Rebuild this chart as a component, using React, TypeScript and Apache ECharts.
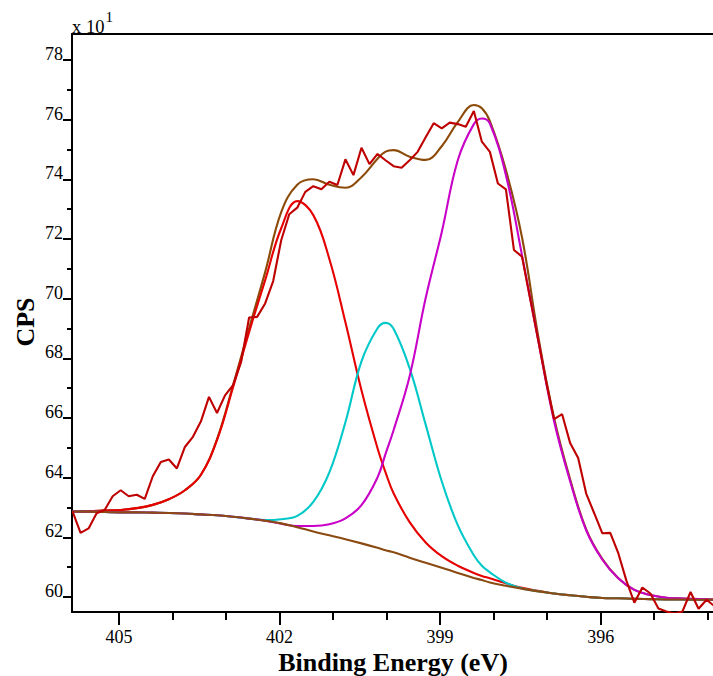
import React, { useEffect, useRef } from "react";
import * as echarts from "echarts";

// Measured spectrum (binding energy in eV, counts in units of 10 CPS)
const rawEnergy = [
  405.87, 405.72, 405.57, 405.42, 405.27, 405.12, 404.97, 404.82, 404.67, 404.52,
  404.37, 404.22, 404.07, 403.92, 403.77, 403.62, 403.47, 403.32, 403.17, 403.02,
  402.87, 402.72, 402.57, 402.42, 402.27, 402.12, 401.97, 401.82, 401.67, 401.52,
  401.37, 401.22, 401.07, 400.92, 400.77, 400.62, 400.47, 400.32, 400.17, 400.02,
  399.87, 399.72, 399.57, 399.42, 399.27, 399.12, 398.97, 398.82, 398.67, 398.52,
  398.37, 398.22, 398.07, 397.92, 397.77, 397.62, 397.47, 397.32, 397.17, 397.02,
  396.87, 396.72, 396.57, 396.42, 396.27, 396.12, 395.97, 395.82, 395.67, 395.52,
  395.37, 395.22, 395.07, 394.92, 394.77, 394.62, 394.47, 394.32, 394.17, 394.02,
  393.87,
];
const rawCps = [
  62.87, 62.15, 62.3, 62.81, 62.92, 63.38, 63.58, 63.38, 63.43, 63.29,
  64.05, 64.53, 64.61, 64.31, 65.03, 65.37, 65.89, 66.71, 66.17, 66.76,
  67.1, 67.87, 69.37, 69.39, 69.84, 70.59, 71.96, 72.83, 73.05, 73.58,
  73.77, 73.67, 73.92, 73.81, 74.67, 74.14, 75.06, 74.51, 74.85, 74.64,
  74.44, 74.39, 74.64, 74.92, 75.41, 75.88, 75.71, 75.9, 75.85, 75.76,
  76.29, 75.26, 74.92, 73.86, 73.66, 71.63, 71.41, 70.02, 68.64, 67.23,
  65.96, 66.13, 65.16, 64.66, 63.47, 62.81, 62.14, 62.15, 61.47, 60.56,
  59.81, 60.32, 60.12, 59.62, 59.52, 59.45, 59.52, 60.17, 59.61, 59.91,
  59.69,
];

// Fitted curves (same units), sampled on the grid below
const fitEnergy = [
  405.87, 405.57, 405.27, 404.97, 404.67, 404.37, 404.07, 403.77, 403.47, 403.17,
  402.87, 402.57, 402.27, 401.97, 401.67, 401.37, 401.07, 400.77, 400.47, 400.17,
  400.02, 399.87, 399.57, 399.27, 398.97, 398.67, 398.37, 398.22, 398.07, 397.77,
  397.47, 397.17, 396.87, 396.57, 396.27, 395.97, 395.67, 395.37, 395.07, 394.77,
  394.47, 394.17, 393.87,
];
const backgroundCps = [
  62.87, 62.86, 62.85, 62.84, 62.84, 62.83, 62.82, 62.8, 62.77, 62.74,
  62.69, 62.63, 62.56, 62.47, 62.34, 62.2, 62.07, 61.94, 61.8, 61.65,
  61.57, 61.5, 61.32, 61.15, 60.98, 60.81, 60.64, 60.57, 60.49, 60.38,
  60.28, 60.19, 60.12, 60.06, 60.01, 59.97, 59.96, 59.94, 59.93, 59.92,
  59.92, 59.91, 59.91,
];
const peak1Cps = [
  62.87, 62.88, 62.9, 62.92, 62.98, 63.09, 63.28, 63.58, 64.1, 65.26,
  67.03, 68.88, 70.62, 72.36, 73.27, 72.8, 71.33, 69.21, 66.93, 64.99,
  64.18, 63.48, 62.51, 61.83, 61.37, 61.05, 60.81, 60.71, 60.63, 60.46,
  60.31, 60.21, 60.12, 60.06, 60.01, 59.97, 59.96, 59.94, 59.93, 59.92,
  59.92, 59.91, 59.91,
];
const peak2Cps = [
  62.87, 62.86, 62.85, 62.84, 62.84, 62.83, 62.82, 62.8, 62.77, 62.74,
  62.69, 62.63, 62.58, 62.61, 62.72, 63.19, 64.18, 65.86, 67.9, 69.01,
  69.19, 68.99, 67.67, 65.78, 63.88, 62.41, 61.4, 61.05, 60.83, 60.48,
  60.29, 60.2, 60.12, 60.06, 60.01, 59.97, 59.96, 59.94, 59.93, 59.92,
  59.92, 59.91, 59.91,
];
const peak3Cps = [
  62.87, 62.86, 62.85, 62.84, 62.84, 62.83, 62.82, 62.8, 62.77, 62.74,
  62.69, 62.63, 62.56, 62.46, 62.38, 62.38, 62.44, 62.64, 63.08, 64.01,
  64.8, 65.59, 67.4, 70.02, 72.23, 74.64, 75.85, 76.04, 75.87, 74.14,
  71.46, 68.64, 65.89, 63.88, 62.24, 61.26, 60.63, 60.24, 60.07, 59.98,
  59.95, 59.93, 59.92,
];
const envelopeCps = [
  62.87, 62.88, 62.9, 62.92, 62.98, 63.09, 63.28, 63.58, 64.1, 65.29,
  67.1, 69.01, 70.89, 72.9, 73.82, 74.0, 73.82, 73.72, 74.07, 74.69,
  74.93, 74.98, 74.76, 74.65, 75.11, 75.92, 76.49, 76.38, 75.95, 74.31,
  72.06, 68.78, 66.0, 63.95, 62.27, 61.28, 60.63, 60.24, 60.07, 59.98,
  59.95, 59.93, 59.92,
];

const xMajorTicks = [405, 402, 399, 396];
const xMinorTicks = [404, 403, 401, 400, 398, 397, 395, 394];
const yMajorTicks = [60, 62, 64, 66, 68, 70, 72, 74, 76, 78];
const yMinorTicks = [61, 63, 65, 67, 69, 71, 73, 75, 77];

const X_MIN = 393.9;
const X_MAX = 405.88;
const Y_MIN = 59.5;
const Y_MAX = 78.87;

const FONT = '"Liberation Serif", "Times New Roman", serif';

const pairs = (xs: number[], ys: number[]) => xs.map((x, i) => [x, ys[i]]);

export default function App() {
  const ref = useRef<HTMLDivElement>(null);

  useEffect(() => {
    if (!ref.current) return;
    const chart = echarts.init(ref.current, undefined, { renderer: "svg" });

    const baseX = {
      type: "value" as const,
      min: X_MIN,
      max: X_MAX,
      inverse: true,
      gridIndex: 0,
      splitLine: { show: false },
    };
    const baseY = {
      type: "value" as const,
      min: Y_MIN,
      max: Y_MAX,
      gridIndex: 0,
      splitLine: { show: false },
    };

    const lineSeries = (name: string, xs: number[], ys: number[], color: string, smooth: boolean | number) => ({
      name,
      type: "line" as const,
      data: pairs(xs, ys),
      xAxisIndex: 0,
      yAxisIndex: 0,
      showSymbol: false,
      symbol: "none",
      smooth,
      silent: true,
      clip: true,
      lineStyle: { color, width: 2.1 },
      emphasis: { disabled: true },
    });

    chart.setOption({
      animation: false,
      backgroundColor: "#ffffff",
      grid: { left: 72, top: 34, right: 0, bottom: 64, containLabel: false },
      xAxis: [
        {
          ...baseX,
          position: "bottom",
          axisLine: { show: true, lineStyle: { color: "#000", width: 2 } },
          axisTick: { show: true, customValues: xMajorTicks, length: 13, lineStyle: { color: "#000", width: 2 } },
          axisLabel: {
            show: true,
            customValues: xMajorTicks,
            margin: 16,
            color: "#000",
            fontSize: 18,
            fontFamily: FONT,
          },
        },
        {
          ...baseX,
          position: "bottom",
          axisLine: { show: false },
          axisTick: { show: true, customValues: xMinorTicks, length: 8, lineStyle: { color: "#000", width: 2 } },
          axisLabel: { show: false },
        },
        {
          ...baseX,
          position: "top",
          axisLine: { show: true, lineStyle: { color: "#000", width: 2 } },
          axisTick: { show: false },
          axisLabel: { show: false },
        },
      ],
      yAxis: [
        {
          ...baseY,
          position: "left",
          axisLine: { show: true, lineStyle: { color: "#000", width: 2 } },
          axisTick: { show: true, customValues: yMajorTicks, length: 9, lineStyle: { color: "#000", width: 2 } },
          axisLabel: {
            show: true,
            customValues: yMajorTicks,
            margin: 9,
            color: "#000",
            fontSize: 18,
            fontFamily: FONT,
            verticalAlign: "bottom",
            lineHeight: 12,
          },
        },
        {
          ...baseY,
          position: "left",
          axisLine: { show: false },
          axisTick: { show: true, customValues: yMinorTicks, length: 5, lineStyle: { color: "#000", width: 2 } },
          axisLabel: { show: false },
        },
      ],
      series: [
        lineSeries("Envelope", fitEnergy, envelopeCps, "#8c4a08", 0.4),
        lineSeries("Peak 1", fitEnergy, peak1Cps, "#e60000", 0.4),
        lineSeries("Peak 2", fitEnergy, peak2Cps, "#00c8c8", 0.4),
        lineSeries("Peak 3", fitEnergy, peak3Cps, "#c800c8", 0.4),
        lineSeries("Background", fitEnergy, backgroundCps, "#8a4a12", 0.4),
        lineSeries("Raw", rawEnergy, rawCps, "#bf0000", false),
      ],
      graphic: [
        {
          type: "text",
          x: 72,
          y: 27,
          silent: true,
          style: { text: "x 10", font: `18.5px ${FONT}`, fill: "#000", align: "left", verticalAlign: "middle" },
        },
        {
          type: "text",
          x: 105.5,
          y: 16.5,
          silent: true,
          style: { text: "1", font: `15px ${FONT}`, fill: "#000", align: "left", verticalAlign: "middle" },
        },
        {
          type: "text",
          x: 25,
          y: 322,
          rotation: Math.PI / 2,
          silent: true,
          style: { text: "CPS", font: `bold 26px ${FONT}`, fill: "#000", align: "center", verticalAlign: "middle" },
        },
        {
          type: "text",
          x: 393,
          y: 662,
          silent: true,
          style: {
            text: "Binding Energy (eV)",
            font: `bold 26px ${FONT}`,
            fill: "#000",
            align: "center",
            verticalAlign: "middle",
          },
        },
      ],
    });

    return () => chart.dispose();
  }, []);

  return (
    <div
      ref={ref}
      style={{ position: "fixed", left: 0, top: 0, width: 713, height: 676, background: "#fff" }}
    />
  );
}
